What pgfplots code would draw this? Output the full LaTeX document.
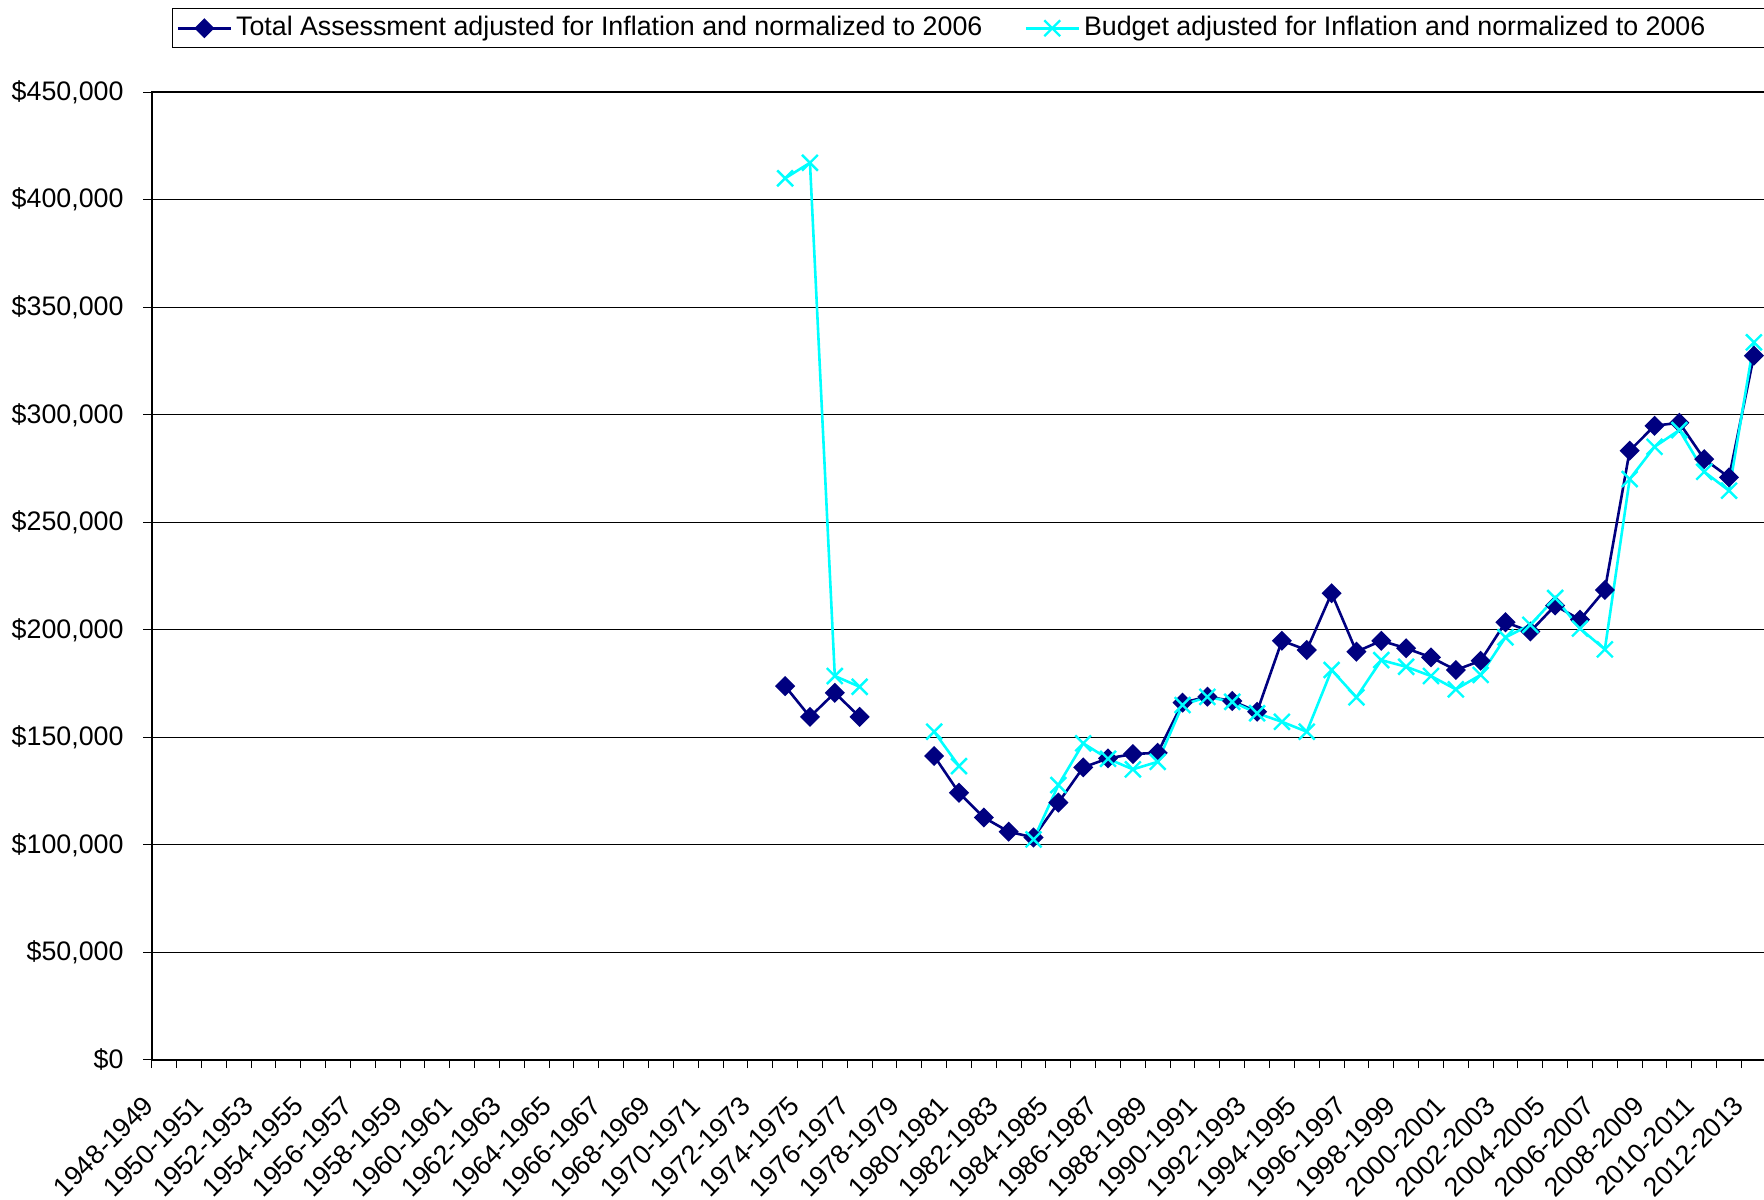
\documentclass[border=0pt]{standalone}
\usepackage{pgfplots}
\pgfplotsset{compat=1.18}
\usepackage{pgfplotstable}
\usepackage{fontspec}
\setmainfont{Liberation Sans}
\definecolor{navyA}{RGB}{0,0,128}
\definecolor{cyanB}{RGB}{0,255,255}
\newcommand\cf{\fontsize{13.4pt}{16pt}\selectfont}
\pgfplotstableread{
x a b
26 173800 410000
27 159500 417200
28 170700 178500
29 159500 173500
30 nan nan
31 nan nan
32 141300 152600
33 124200 136600
34 112700 nan
35 106100 nan
36 103400 102500
37 119600 127800
38 136000 147200
39 140200 140000
40 142200 135100
41 142800 138600
42 166100 165000
43 168900 168800
44 166900 166500
45 161900 161200
46 194900 157200
47 190600 152600
48 217000 181300
49 189800 168600
50 194900 185900
51 191400 182800
52 187200 178500
53 181300 172300
54 185600 179000
55 203500 196500
56 199200 202300
57 211300 214800
58 204700 200600
59 218500 190900
60 283300 270100
61 294900 285100
62 296300 292900
63 279400 273500
64 270900 264700
65 327500 333700
}\datatable
\begin{document}
\cf
\begin{tikzpicture}
\begin{axis}[
  at={(75.85pt,69.6pt)}, anchor=south west,
  scale only axis, width=807.3pt, height=483.75pt,
  xmin=0.5, xmax=65.5, ymin=0, ymax=450000,
  axis line style={black, line width=1.1pt},
  scaled y ticks=false,
  xtick pos=lower, ytick pos=left,
  ytick={0,50000,100000,150000,200000,250000,300000,350000,400000,450000},
  yticklabels={{\$0},{\$50,000},{\$100,000},{\$150,000},{\$200,000},{\$250,000},{\$300,000},{\$350,000},{\$400,000},{\$450,000}},
  ymajorgrids, grid style={black, line width=0.5pt},
  tick align=outside, major tick length=4.2pt, tick style={black, line width=0.5pt},
  xtick={0.5,1.5,...,64.5},
  xticklabels={1948-1949,,1950-1951,,1952-1953,,1954-1955,,1956-1957,,1958-1959,,1960-1961,,1962-1963,,1964-1965,,1966-1967,,1968-1969,,1970-1971,,1972-1973,,1974-1975,,1976-1977,,1978-1979,,1980-1981,,1982-1983,,1984-1985,,1986-1987,,1988-1989,,1990-1991,,1992-1993,,1994-1995,,1996-1997,,1998-1999,,2000-2001,,2002-2003,,2004-2005,,2006-2007,,2008-2009,,2010-2011,,2012-2013},
  xticklabel style={font=\cf, anchor=east, inner sep=0pt, xshift=-1.2pt, yshift=-16.25pt, rotate=45},
  yticklabel style={font=\cf, anchor=east, inner sep=0pt, xshift=-9.7pt},
  unbounded coords=jump,
  legend columns=2,
  legend style={at={(axis description cs:0.01257,1.0871)}, anchor=north west, draw=black, line width=0.5pt, font=\cf, inner xsep=2pt, inner ysep=2pt, /tikz/every even column/.append style={column sep=19pt}},
  legend image code/.code={\draw[mark repeat=2,mark phase=2,#1] plot coordinates {(0pt,0pt) (13.25pt,0pt) (26.5pt,0pt)};},
]
\addplot[navyA, line width=1.3pt, mark=square*, mark size=2.9pt, mark options={rotate=45, solid, fill=navyA}] table[x=x, y=a] {\datatable};
\addlegendentry{Total Assessment adjusted for Inflation and normalized to 2006}
\addplot[cyanB, line width=1.3pt, mark=x, mark size=5.6pt, mark options={solid, line width=1.2pt}] table[x=x, y=b] {\datatable};
\addlegendentry{Budget adjusted for Inflation and normalized to 2006\hspace*{37pt}}
\end{axis}
\pgfresetboundingbox
\useasboundingbox (0,0) rectangle (882pt,599.5pt);
\end{tikzpicture}
\end{document}
